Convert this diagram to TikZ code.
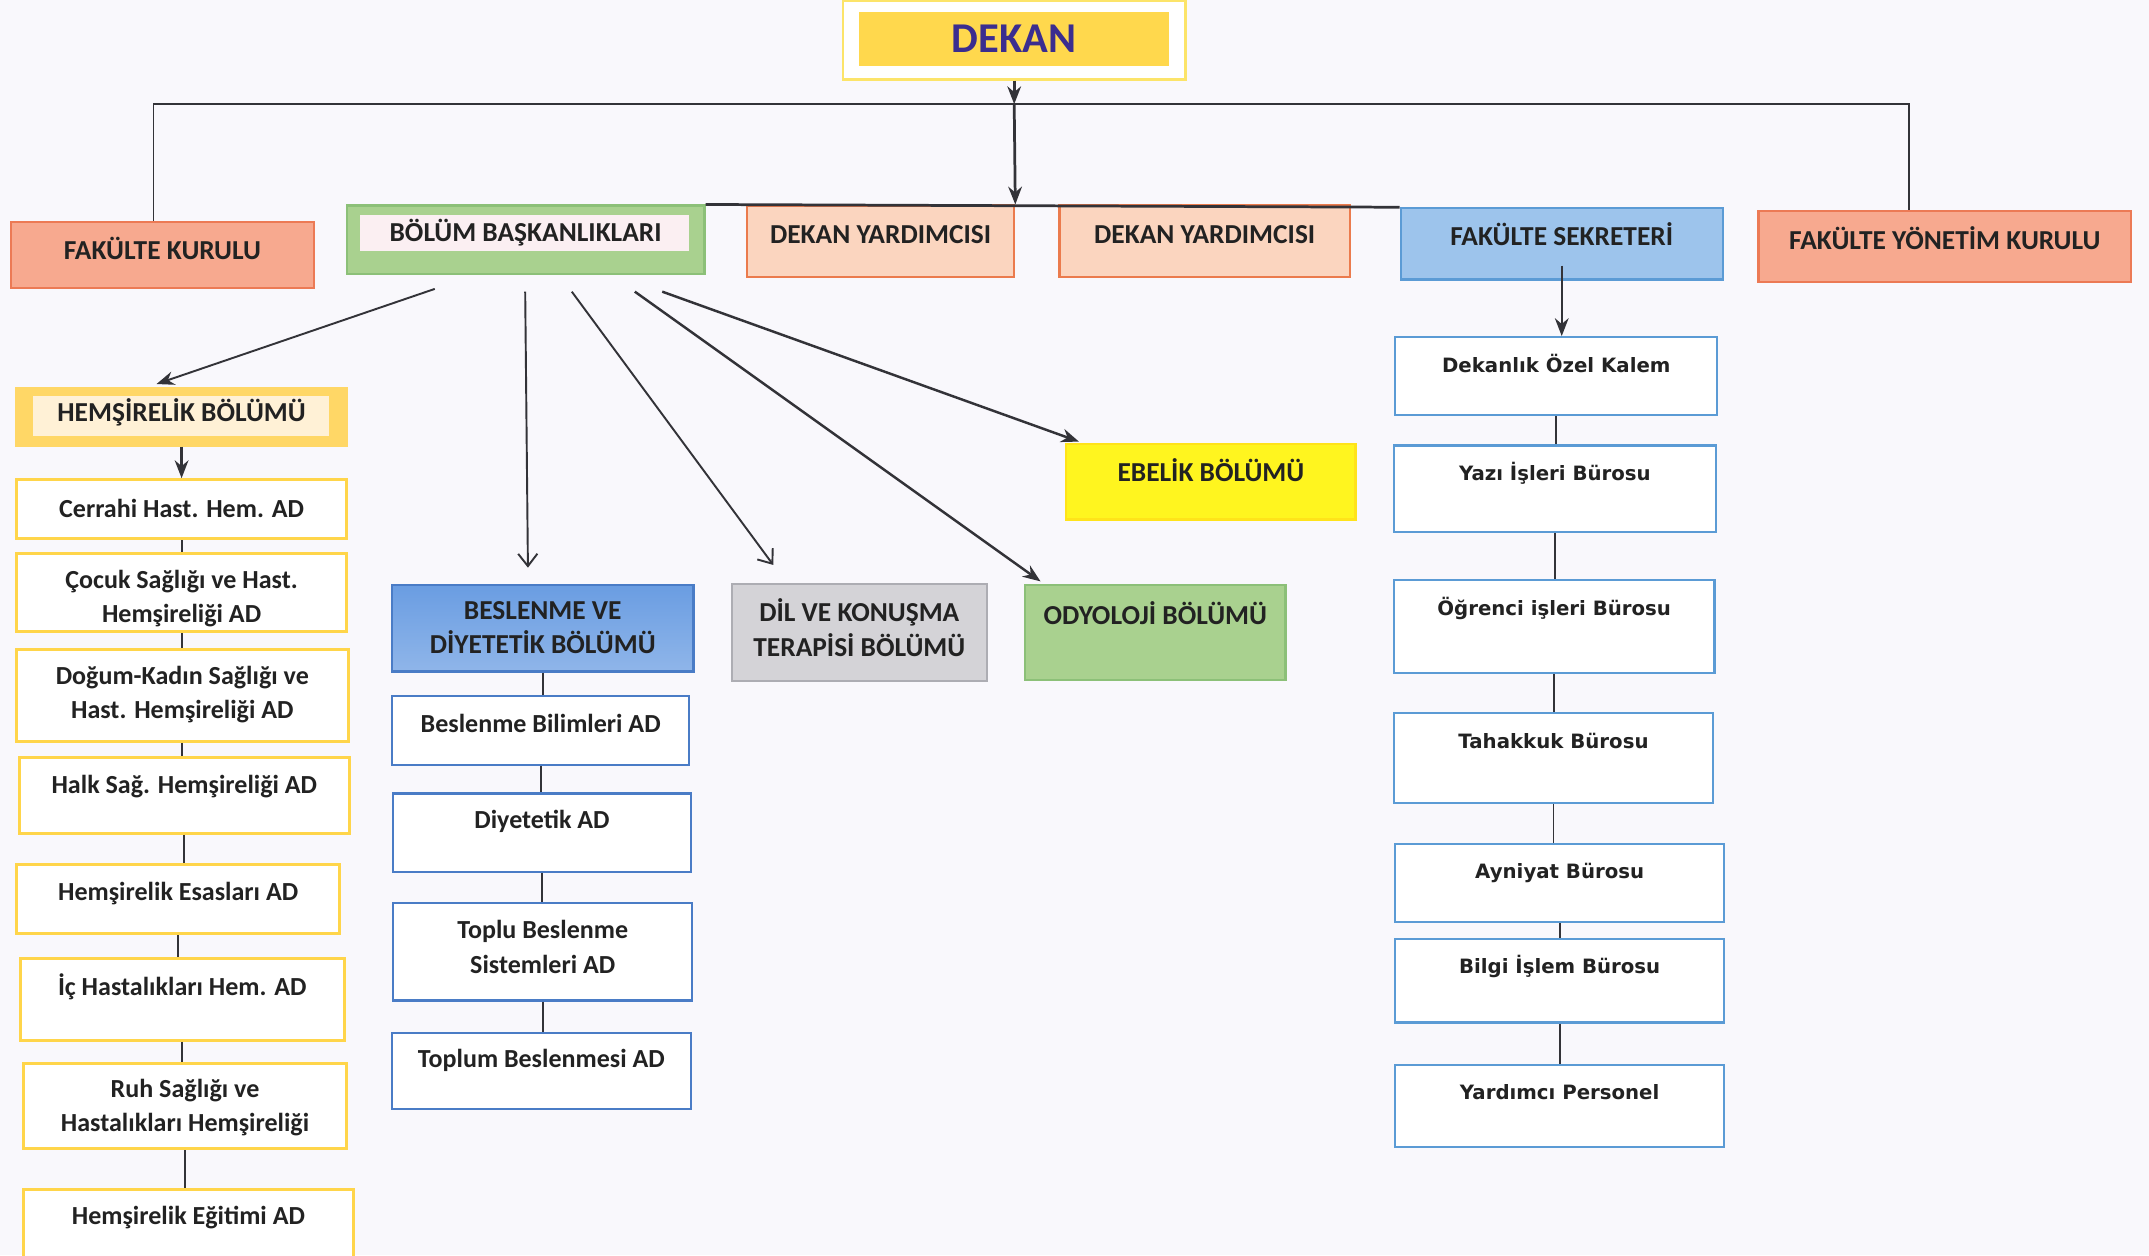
\documentclass[tikz,border=0pt]{standalone}
\usepackage{fontspec}
\setmainfont{Carlito}
\newfontfamily\dejavu{DejaVu Sans}
\usepackage{tikz}
\usetikzlibrary{arrows.meta,positioning}
\usepackage{xcolor}
\definecolor{zemin}{HTML}{F9F8FC}
\definecolor{dekansari}{HTML}{FFD84D}
\definecolor{dekancerceve}{HTML}{FCE469}
\definecolor{dekanmor}{HTML}{3B2D8F}
\definecolor{somon}{HTML}{F7A98F}
\definecolor{somoncizgi}{HTML}{EC7A55}
\definecolor{seftali}{HTML}{FBD5BF}
\definecolor{turuncucizgi}{HTML}{EB7B4D}
\definecolor{yesil}{HTML}{A9D18F}
\definecolor{yesilcizgi}{HTML}{8CC078}
\definecolor{pembebeyaz}{HTML}{FBEFF2}
\definecolor{acikmavi}{HTML}{9DC4EC}
\definecolor{mavicizgi}{HTML}{5B9BD5}
\definecolor{koyumavi}{HTML}{6A9DE2}
\definecolor{koyumavicizgi}{HTML}{4A7CC6}
\definecolor{gri}{HTML}{D4D3D7}
\definecolor{gricizgi}{HTML}{ADADB3}
\definecolor{hardal}{HTML}{FFD766}
\definecolor{krem}{HTML}{FFF1D6}
\definecolor{altincizgi}{HTML}{FFD54A}
\definecolor{limon}{HTML}{FFF51F}
\definecolor{cizgirengi}{HTML}{333338}
\definecolor{yazirengi}{HTML}{222222}
% kutu: ad, kutu stili, yazi stili, x1, y1, x2, y2, yazi ortasi, yazi
\def\kutu#1#2#3#4#5#6#7#8#9{%
  \node[#2, minimum width={(#6-#4)*0.5pt}, minimum height={(#7-#5)*0.5pt}]
    (#1) at ({(#4+#6)/2},{(#5+#7)/2}) {};
  \node[#3, yshift={((#5+#7)/2-#8)*0.5pt}] (#1y) at (#1.center) {#9};}

\begin{document}
\begin{tikzpicture}[x=0.5pt, y=-0.5pt,
  cerceve/.style={rectangle, inner sep=0pt, line width=0.8pt},
  icli/.style n args={5}{path picture={\fill[#1] ([shift={(#2,#3)}]path picture bounding box.north west) rectangle ([shift={(#4,#5)}]path picture bounding box.south east);}},
  dekankutu/.style={cerceve, draw=dekancerceve, fill=white, icli={dekansari}{6pt}{-4pt}{-6pt}{5pt}},
  somonkutu/.style={cerceve, draw=somoncizgi, fill=somon},
  seftalikutu/.style={cerceve, draw=turuncucizgi, fill=seftali},
  bolumkutu/.style={cerceve, draw=yesilcizgi, fill=yesil, icli={pembebeyaz}{5pt}{-3.5pt}{-5.5pt}{8.5pt}},
  sekreterkutu/.style={cerceve, draw=mavicizgi, fill=acikmavi},
  hemkutu/.style={cerceve, draw=hardal, fill=hardal, icli={krem}{6pt}{-3pt}{-6.5pt}{3.5pt}},
  sarikutu/.style={cerceve, draw=altincizgi, line width=1.1pt, fill=white},
  bdkutu/.style={cerceve, draw=koyumavicizgi, top color=koyumavi, bottom color=koyumavi!75!white},
  mavikutu/.style={cerceve, draw=koyumavicizgi, fill=white},
  grikutu/.style={cerceve, draw=gricizgi, fill=gri},
  odykutu/.style={cerceve, draw=yesilcizgi, fill=yesil},
  ebekutu/.style={cerceve, draw=limon!85!orange, fill=limon},
  burokutu/.style={cerceve, draw=mavicizgi, fill=white},
  baslik/.style={text=yazirengi, font=\bfseries\fontsize{9.5}{12.5}\selectfont, align=center, inner sep=0pt},
  ustbaslik/.style={baslik, font=\bfseries\fontsize{10}{12.5}\selectfont},
  dekanyazi/.style={text=dekanmor, font=\bfseries\fontsize{15.5}{18}\selectfont, inner sep=0pt},
  buroyazi/.style={text=yazirengi, font=\dejavu\bfseries\fontsize{7.2}{9}\selectfont, inner sep=0pt},
  cizgi/.style={draw=cizgirengi, line width=0.7pt},
  ok/.style={cizgi, -{Stealth[length=6.5pt, width=5pt]}},
  acikok/.style={cizgi, -{Straight Barb[length=4.5pt, width=7pt]}}]
\useasboundingbox (0,0) rectangle (1568,916);
\fill[zemin] (0,0) rectangle (1568,916);

% dekan ve ust sira
\kutu{dekan}{dekankutu}{dekanyazi}{615}{1}{865}{58}{28}{DEKAN}
\kutu{fk}{somonkutu}{ustbaslik}{8}{162}{229}{210}{181}{FAKÜLTE KURULU}
\kutu{bb}{bolumkutu}{ustbaslik}{253}{150}{514}{200}{170}{BÖLÜM BAŞKANLIKLARI}
\kutu{dya}{seftalikutu}{ustbaslik}{545}{150}{740}{202}{171}{DEKAN YARDIMCISI}
\kutu{dyb}{seftalikutu}{ustbaslik}{773}{150}{985}{202}{171}{DEKAN YARDIMCISI}
\kutu{fs}{sekreterkutu}{ustbaslik}{1022}{152}{1257}{204}{171}{FAKÜLTE SEKRETERİ}
\kutu{fyk}{somonkutu}{ustbaslik}{1283}{154}{1555}{206}{174}{FAKÜLTE YÖNETİM KURULU}

% bolumler
\kutu{hb}{hemkutu}{ustbaslik}{12}{283}{253}{325}{301}{HEMŞİRELİK BÖLÜMÜ}
\kutu{bdb}{bdkutu}{ustbaslik}{286}{427}{506}{490}{458}{BESLENME VE\\DİYETETİK BÖLÜMÜ}
\kutu{dkb}{grikutu}{ustbaslik}{534}{426}{720}{497}{458}{DİL VE KONUŞMA\\TERAPİSİ BÖLÜMÜ}
\kutu{ob}{odykutu}{ustbaslik}{748}{427}{938}{496}{447}{ODYOLOJİ BÖLÜMÜ}
\kutu{eb}{ebekutu}{ustbaslik}{778}{324}{989}{379}{343}{EBELİK BÖLÜMÜ}

% hemsirelik anabilim dallari
\kutu{h1}{sarikutu}{baslik}{12}{350}{253}{393}{371}{Cerrahi Hast. Hem. AD}
\kutu{h2}{sarikutu}{baslik}{12}{404}{253}{461}{437}{Çocuk Sağlığı ve Hast.\\Hemşireliği AD}
\kutu{h3}{sarikutu}{baslik}{12}{474}{254}{541}{507}{Doğum-Kadın Sağlığı ve\\Hast. Hemşireliği AD}
\kutu{h4}{sarikutu}{baslik}{14}{553}{255}{608}{574}{Halk Sağ. Hemşireliği AD}
\kutu{h5}{sarikutu}{baslik}{12}{631}{248}{681}{652}{Hemşirelik Esasları AD}
\kutu{h6}{sarikutu}{baslik}{15}{699}{251}{759}{720}{İç Hastalıkları Hem. AD}
\kutu{h7}{sarikutu}{baslik}{17}{776}{253}{838}{808}{Ruh Sağlığı ve\\Hastalıkları Hemşireliği}
\kutu{h8}{sarikutu}{baslik}{17}{868}{258}{925}{888}{Hemşirelik Eğitimi AD}

% beslenme anabilim dallari
\kutu{m1}{mavikutu}{baslik}{286}{508}{503}{558}{528}{Beslenme Bilimleri AD}
\kutu{m2}{mavikutu}{baslik}{287}{579}{504}{636}{599}{Diyetetik AD}
\kutu{m3}{mavikutu}{baslik}{287}{659}{505}{730}{691}{Toplu Beslenme\\Sistemleri AD}
\kutu{m4}{mavikutu}{baslik}{286}{754}{504}{809}{774}{Toplum Beslenmesi AD}

% burolar
\kutu{r1}{burokutu}{buroyazi}{1018}{246}{1253}{303}{265}{Dekanlık Özel Kalem}
\kutu{r2}{burokutu}{buroyazi}{1017}{325}{1252}{388}{345}{Yazı İşleri Bürosu}
\kutu{r3}{burokutu}{buroyazi}{1017}{423}{1251}{491}{444}{Öğrenci işleri Bürosu}
\kutu{r4}{burokutu}{buroyazi}{1017}{520}{1250}{586}{541}{Tahakkuk Bürosu}
\kutu{r5}{burokutu}{buroyazi}{1018}{616}{1258}{673}{637}{Ayniyat Bürosu}
\kutu{r6}{burokutu}{buroyazi}{1018}{685}{1258}{746}{705}{Bilgi İşlem Bürosu}
\kutu{r7}{burokutu}{buroyazi}{1018}{777}{1258}{837}{797}{Yardımcı Personel}

% baglantilar
\coordinate (hat) at (740,76);
\draw[cizgi] ([xshift=-3.25pt]fk.north) |- (hat) -| ([xshift=-13pt]fyk.north);
\draw[ok, line width=1pt] (dekan.south) -- (hat);
\draw[ok, line width=1pt] (hat) -- (dya.north east);
\draw[cizgi, line width=1pt] (bb.north east) -- (fs.north west);

\draw[ok] ([xshift=32.5pt,yshift=-5pt]bb.south west) -- ([xshift=51.5pt,yshift=1pt]hb.north west);
\draw[acikok] ([xshift=65.5pt,yshift=-6pt]bb.south west) -- ([xshift=50pt,yshift=6pt]bdb.north west);
\draw[acikok] ([xshift=82.5pt,yshift=-6pt]bb.south west) -- ([xshift=15.5pt,yshift=6.5pt]dkb.north west);
\draw[ok, line width=0.9pt] ([xshift=105.5pt,yshift=-6pt]bb.south west) -- ([xshift=6pt,yshift=1pt]ob.north west);
\draw[ok, line width=0.9pt] ([xshift=115.5pt,yshift=-6pt]bb.south west) -- ([xshift=5pt,yshift=0.5pt]eb.north west);

\draw[ok, line width=0.9pt] (hb.south) -- (hb.south |- h1.north);
\draw[ok, line width=0.9pt] ([yshift=5.5pt]fs.south) -- (fs.south |- r1.north);
\foreach \a/\b in {h1/h2,h2/h3,h3/h4,h4/h5,h5/h6,h6/h7,h7/h8,
                   bdb/m1,m1/m2,m2/m3,m3/m4,
                   r1/r2,r2/r3,r3/r4,r4/r5,r5/r6,r6/r7}
  \draw[cizgi] (\a.south) -- (\a.south |- \b.north);
\end{tikzpicture}
\end{document}
